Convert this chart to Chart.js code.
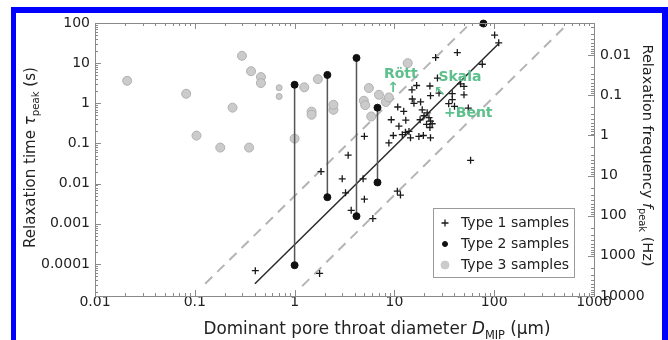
<!DOCTYPE html>
<html>
<head>
<meta charset="utf-8">
<script src="https://cdn.jsdelivr.net/npm/chart.js@4.4.1/dist/chart.umd.min.js"></script>
<style>
  html, body { margin: 0; padding: 0; background: #fff; }
  #wrap { position: relative; width: 668px; height: 340px; overflow: hidden; }
  #wrap canvas { position: absolute; left: 0; top: 0; }
  #frame { position: absolute; left: 11px; top: 7px; right: 0; bottom: -10px;
           border-style: solid; border-color: #0000ff; border-width: 6px 6px 0 5px;
           pointer-events: none; }
</style>
</head>
<body>
<div id="wrap">
  <canvas id="chart" width="668" height="340"></canvas>
  <div id="frame"></div>
</div>
<script>
// Type 1 samples: diameter (µm) and relaxation time (s)
const type1D = [0.404, 1.78, 1.84, 3.0, 3.24, 3.44, 3.69, 4.86, 5.0, 5.0, 6.08, 8.8, 9.75, 10.7, 11.5,
  12, 12.9, 14, 14.5, 17.6, 19.5, 23, 58, 101, 111, 42.7, 25.9, 76, 16.7, 22.7, 27, 46, 15, 15.1, 23,
  28, 38, 38, 49.8, 49.8, 35, 40, 55, 10.8, 12.4, 15.7, 18.3, 19, 21.3, 19.8, 22.2, 23, 21, 22.7,
  23.9, 18.1, 9.3, 13, 11.1];
const type1Tau = [6.8e-5, 5.8e-5, 0.02, 0.0132, 0.0059, 0.051, 0.00216, 0.0132, 0.0041, 0.151, 0.00135,
  0.103, 0.158, 0.0065, 0.0052, 0.166, 0.19, 0.2, 0.138, 0.15, 0.158, 0.138, 0.038, 50, 32, 18.3, 13.8,
  9.4, 2.78, 2.7, 4.25, 3.06, 2.17, 1.28, 1.55, 1.8, 1.74, 1.23, 1.63, 2.63, 0.98, 0.84, 0.76, 0.81,
  0.63, 1.0, 1.08, 0.69, 0.58, 0.49, 0.44, 0.36, 0.30, 0.25, 0.31, 0.39, 0.39, 0.38, 0.27];

// Type 2 samples: two relaxation times per sample, joined by a line
const type2D = [1.0, 2.13, 4.17, 6.77];
const type2TauTop = [2.9, 5.1, 13.5, 0.78];
const type2TauBottom = [9.3e-5, 0.0046, 0.00155, 0.0107];
const type2ExtraD = [78];
const type2ExtraTau = [97];

// Type 3 samples
const type3D = [0.021, 0.082, 0.104, 0.18, 0.239, 0.297, 0.35, 0.366, 0.46, 0.46, 1.0, 1.25, 1.48,
  1.48, 1.71, 2.45, 2.45, 4.94, 5.1, 5.55, 5.86, 7.0, 8.2, 8.8, 13.6];
const type3Tau = [3.64, 1.73, 0.157, 0.079, 0.78, 15.2, 0.079, 6.3, 4.5, 3.2, 0.132, 2.5, 0.62,
  0.52, 4.0, 0.69, 0.92, 1.16, 0.9, 2.4, 0.47, 1.63, 1.08, 1.4, 10];
const type3SmallD = [0.70, 0.70];
const type3SmallTau = [2.44, 1.48];

// fitted trend and its bounds (end points)
const fitD = [0.4, 110];
const fitTau = [3.2e-5, 30];
const upperD = [0.127, 58];
const upperTau = [3.2e-5, 100];
const lowerD = [1.19, 545];
const lowerTau = [2.8e-5, 95];

// axis ranges: f = 1 / (2 pi tau)
const xMin = 0.01, xMax = 1000;
const fMin = 1 / (2 * Math.PI * 100), fMax = 10000;
const tauMin = 1 / (2 * Math.PI * fMax), tauMax = 100;

const notes = [
  { text: 'Rött', d: 11.6, tau: 5.4, align: 'center' },
  { text: '↑', d: 9.7, tau: 2.4, align: 'center' },
  { text: 'Skala', d: 45.4, tau: 4.5, align: 'center' },
  { text: '↖', d: 28.6, tau: 1.9, align: 'center' },
  { text: '+Bent', d: 31.4, tau: 0.574, align: 'left' }
];

const pts = (xs, ys) => xs.map((x, i) => ({ x: x, y: ys[i] }));

const pairLines = [];
type2D.forEach((d, i) => {
  pairLines.push({ x: d, y: type2TauTop[i] }, { x: d, y: type2TauBottom[i] }, { x: d, y: null });
});

const FONT = "'DejaVu Sans', sans-serif";
const INK = '#222';

function decadeLabel(v) {
  const e = Math.log10(v);
  const r = Math.round(e);
  if (Math.abs(e - r) > 1e-6) return '';
  return r < 0 ? Math.pow(10, r).toFixed(-r) : String(Math.pow(10, r));
}

const styles = {
  type1: { pointStyle: 'cross', radius: 3.5, borderWidth: 1.3, borderColor: '#1a1a1a', backgroundColor: '#1a1a1a' },
  type2: { pointStyle: 'circle', radius: 3.5, borderWidth: 1, borderColor: '#111', backgroundColor: '#111' },
  type3: { pointStyle: 'circle', radius: 4.5, borderWidth: 1, borderColor: '#b0b0b0', backgroundColor: '#cbcbcb' }
};

// inward ticks on all four sides and the box
const frameTicks = {
  id: 'frameTicks',
  afterDatasetsDraw(chart) {
    const { ctx, chartArea: a, scales } = chart;
    ctx.save();
    ctx.strokeStyle = '#8a8a8a';
    ctx.lineWidth = 1;
    ctx.strokeRect(Math.round(a.left) + 0.5, Math.round(a.top) + 0.5, Math.round(a.right - a.left), Math.round(a.bottom - a.top));
    ctx.beginPath();
    const each = (lo, hi, fn) => {
      for (let e = Math.floor(Math.log10(lo)); e <= Math.ceil(Math.log10(hi)); e++) {
        for (let k = 1; k <= 9; k++) {
          const v = k * Math.pow(10, e);
          if (v < lo * 0.9999 || v > hi * 1.0001) continue;
          fn(v, k === 1 ? 6 : 3);
        }
      }
    };
    each(xMin, xMax, (v, len) => {
      const px = Math.round(scales.x.getPixelForValue(v)) + 0.5;
      ctx.moveTo(px, a.bottom); ctx.lineTo(px, a.bottom - len);
      ctx.moveTo(px, a.top); ctx.lineTo(px, a.top + len);
    });
    each(tauMin, tauMax, (v, len) => {
      const py = Math.round(scales.y.getPixelForValue(v)) + 0.5;
      ctx.moveTo(a.left, py); ctx.lineTo(a.left + len, py);
    });
    each(fMin, fMax, (v, len) => {
      const py = Math.round(scales.y2.getPixelForValue(v)) + 0.5;
      ctx.moveTo(a.right, py); ctx.lineTo(a.right - len, py);
    });
    ctx.stroke();
    ctx.restore();
  }
};

// axis titles with italics and subscripts
function drawRich(ctx, parts, size) {
  let w = 0;
  parts.forEach(p => {
    ctx.font = (p.it ? 'italic ' : '') + (p.sub ? size * 0.68 : size) + 'px ' + FONT;
    p.w = ctx.measureText(p.t).width;
    w += p.w;
  });
  let x = -w / 2;
  parts.forEach(p => {
    ctx.font = (p.it ? 'italic ' : '') + (p.sub ? size * 0.68 : size) + 'px ' + FONT;
    ctx.fillText(p.t, x, p.sub ? size * 0.28 : 0);
    x += p.w;
  });
}

const titles = {
  id: 'titles',
  afterDraw(chart) {
    const { ctx, chartArea: a } = chart;
    const midY = (a.top + a.bottom) / 2;
    ctx.save();
    ctx.fillStyle = INK;
    ctx.textBaseline = 'alphabetic';
    ctx.textAlign = 'left';
    ctx.save();
    ctx.translate(377, 334);
    drawRich(ctx, [{ t: 'Dominant pore throat diameter ' }, { t: 'D', it: true }, { t: 'MIP', sub: true }, { t: ' (µm)' }], 16.8);
    ctx.restore();
    ctx.save();
    ctx.translate(35, midY - 2);
    ctx.rotate(-Math.PI / 2);
    drawRich(ctx, [{ t: 'Relaxation time ' }, { t: 'τ', it: true }, { t: 'peak', sub: true }, { t: ' (s)' }], 15);
    ctx.restore();
    ctx.save();
    ctx.translate(643, midY - 4);
    ctx.rotate(Math.PI / 2);
    drawRich(ctx, [{ t: 'Relaxation frequency ' }, { t: 'f', it: true }, { t: 'peak', sub: true }, { t: ' (Hz)' }], 14.5);
    ctx.restore();
    ctx.restore();
  }
};

// green sample names
const labels = {
  id: 'labels',
  afterDatasetsDraw(chart) {
    const { ctx, scales } = chart;
    ctx.save();
    ctx.fillStyle = '#5cbf8c';
    ctx.font = 'bold 14px ' + FONT;
    ctx.textBaseline = 'middle';
    notes.forEach(n => {
      ctx.textAlign = n.align;
      ctx.fillText(n.text, scales.x.getPixelForValue(n.d), scales.y.getPixelForValue(n.tau));
    });
    ctx.restore();
  }
};

// legend box inside the plot
const boxLegend = {
  id: 'boxLegend',
  afterDraw(chart) {
    const { ctx } = chart;
    const items = [['Type 1 samples', styles.type1], ['Type 2 samples', { ...styles.type2, radius: 2.5 }], ['Type 3 samples', { ...styles.type3, radius: 4, borderColor: '#cbcbcb' }]];
    ctx.save();
    ctx.fillStyle = '#fff';
    ctx.strokeStyle = '#9a9a9a';
    ctx.lineWidth = 1;
    ctx.fillRect(433, 208, 141, 69);
    ctx.strokeRect(433.5, 208.5, 141, 69);
    ctx.font = '14px ' + FONT;
    ctx.textBaseline = 'middle';
    items.forEach(([name, s], i) => {
      const y = 223 + i * 21;
      ctx.fillStyle = s.backgroundColor;
      ctx.strokeStyle = s.borderColor;
      ctx.lineWidth = s.borderWidth;
      Chart.helpers.drawPoint(ctx, { pointStyle: s.pointStyle, radius: s.radius, rotation: 0, borderWidth: s.borderWidth }, 445, y);
      ctx.fillStyle = INK;
      ctx.fillText(name, 461, y);
    });
    ctx.restore();
  }
};

const pointSet = (label, data, s, extra) => Object.assign({
  label: label,
  data: data,
  pointStyle: s.pointStyle,
  pointRadius: s.radius,
  pointBorderWidth: s.borderWidth,
  pointBorderColor: s.borderColor,
  pointBackgroundColor: s.backgroundColor,
  showLine: false
}, extra || {});

const lineSet = (data, color, width, dash) => ({
  data: data,
  showLine: true,
  pointRadius: 0,
  borderColor: color,
  borderWidth: width,
  borderDash: dash,
  spanGaps: false,
  fill: false
});

new Chart(document.getElementById('chart'), {
  type: 'scatter',
  data: {
    datasets: [
      pointSet('Type 1 samples', pts(type1D, type1Tau), styles.type1),
      pointSet('Type 2 samples', pts(type2D, type2TauTop).concat(pts(type2D, type2TauBottom), pts(type2ExtraD, type2ExtraTau)), styles.type2, { clip: false }),
      lineSet(pairLines, '#555', 1.5, []),
      pointSet('Type 3 samples', pts(type3D, type3Tau), styles.type3),
      pointSet('Type 3 small', pts(type3SmallD, type3SmallTau), { ...styles.type3, radius: 3 }),
      lineSet(pts(fitD, fitTau), '#2a2a2a', 1.5, []),
      lineSet(pts(upperD, upperTau), '#b4b4b4', 2, [10, 7]),
      lineSet(pts(lowerD, lowerTau), '#b4b4b4', 2, [10, 7])
    ]
  },
  options: {
    responsive: false,
    animation: false,
    layout: { padding: { top: 23, left: 0, right: 0, bottom: 0 } },
    plugins: { legend: { display: false }, tooltip: { enabled: false } },
    scales: {
      x: {
        type: 'logarithmic', position: 'bottom', min: xMin, max: xMax,
        grid: { display: false, drawTicks: false },
        border: { display: false },
        ticks: { autoSkip: false, maxRotation: 0, padding: -2, color: INK, font: { family: FONT, size: 14 }, callback: decadeLabel },
        afterFit: s => { s.height = 44; }
      },
      y: {
        type: 'logarithmic', position: 'left', min: tauMin, max: tauMax,
        grid: { display: false, drawTicks: false },
        border: { display: false },
        ticks: { autoSkip: false, padding: 5, color: INK, font: { family: FONT, size: 14 }, callback: decadeLabel },
        afterFit: s => { s.width = 95; }
      },
      y2: {
        type: 'logarithmic', position: 'right', reverse: true, min: fMin, max: fMax,
        grid: { display: false, drawTicks: false },
        border: { display: false },
        ticks: { autoSkip: false, padding: 6, color: INK, font: { family: FONT, size: 14 }, callback: decadeLabel },
        afterFit: s => { s.width = 74; }
      }
    }
  },
  plugins: [frameTicks, labels, titles, boxLegend]
});
</script>
</body>
</html>
